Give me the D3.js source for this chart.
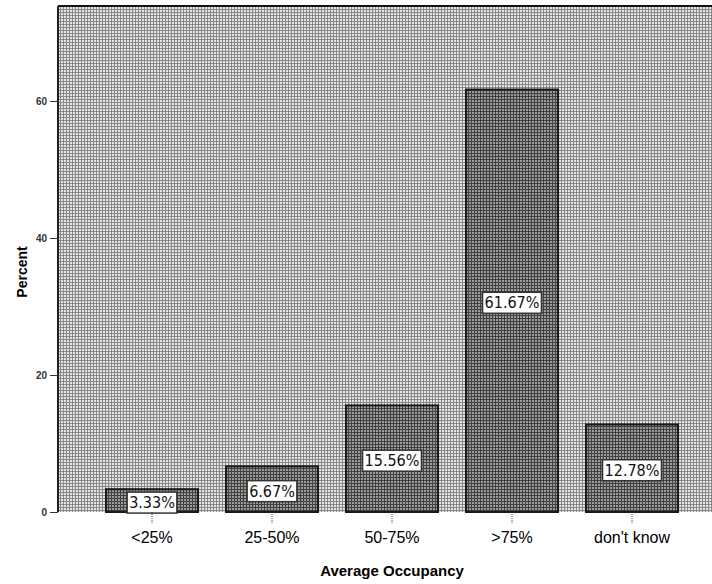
<!DOCTYPE html>
<html>
<head>
<meta charset="utf-8">
<script src="https://cdn.jsdelivr.net/npm/d3@7"></script>
<style>
  html, body { margin: 0; padding: 0; background: #fff; }
  svg { display: block; }
</style>
</head>
<body>
<svg id="chart" width="712" height="584"></svg>
<script>
// Average occupancy categories and their share of responses (percent)
const categories = ["<25%", "25-50%", "50-75%", ">75%", "don't know"];
const percents = [3.33, 6.67, 15.56, 61.67, 12.78];
const yTicks = [0, 20, 40, 60];

const svg = d3.select("#chart");
const plot = { left: 58, right: 712, top: 6, bottom: 512 };

const x = d3.scaleBand()
  .domain(categories)
  .range([92, 692])
  .paddingInner(0.233)
  .paddingOuter(0.1165);

const y = d3.scaleLinear()
  .domain([0, 60])
  .range([plot.bottom, 101]);

// dithered greys for the plot background and the bars
const defs = svg.append("defs");
function dither(id, dark, light) {
  const p = defs.append("pattern")
    .attr("id", id).attr("width", 3).attr("height", 3)
    .attr("patternUnits", "userSpaceOnUse");
  p.append("rect").attr("width", 3).attr("height", 3).attr("fill", light);
  p.append("rect").attr("width", 3).attr("height", 1).attr("fill", dark);
  p.append("rect").attr("width", 1).attr("height", 3).attr("fill", dark);
}
dither("bgDither", "#888", "#e4e4e4");
dither("barDither", "#404040", "#9a9a9a");

svg.append("rect")
  .attr("x", plot.left).attr("y", plot.top)
  .attr("width", plot.right - plot.left).attr("height", plot.bottom - plot.top)
  .attr("fill", "url(#bgDither)");

// top frame line
svg.append("line")
  .attr("x1", plot.left).attr("x2", plot.right)
  .attr("y1", plot.top).attr("y2", plot.top)
  .attr("stroke", "#111").attr("stroke-width", 2);

// bars
svg.selectAll("rect.bar")
  .data(categories)
  .join("rect")
  .attr("class", "bar")
  .attr("x", d => x(d))
  .attr("width", x.bandwidth())
  .attr("y", (d, i) => y(percents[i]))
  .attr("height", (d, i) => y(0) - y(percents[i]))
  .attr("fill", "url(#barDither)")
  .attr("stroke", "#1a1a1a")
  .attr("stroke-width", 2);

// value labels in white boxes at bar mid-height
const fmt = v => v.toFixed(2) + "%";
const labels = svg.selectAll("g.vlabel")
  .data(categories)
  .join("g")
  .attr("class", "vlabel")
  .attr("transform", (d, i) =>
    `translate(${x(d) + x.bandwidth() / 2},${(y(percents[i]) + y(0)) / 2 + 2})`);

labels.each(function (d, i) {
  const g = d3.select(this);
  const t = g.append("text")
    .attr("text-anchor", "middle")
    .attr("dominant-baseline", "central")
    .attr("font-family", "'DejaVu Sans Condensed', 'DejaVu Sans', sans-serif")
    .attr("font-size", 16)
    .attr("fill", "#111")
    .text(fmt(percents[i]));
  const bb = t.node().getBBox();
  g.insert("rect", "text")
    .attr("x", bb.x - 2).attr("y", bb.y - 1)
    .attr("width", bb.width + 4).attr("height", bb.height + 2)
    .attr("fill", "#fff")
    .attr("stroke", "#333").attr("stroke-width", 1.5);
});

// y axis
const yAxis = svg.append("g")
  .attr("transform", `translate(${plot.left},0)`)
  .call(d3.axisLeft(y).tickValues(yTicks).tickSize(8).tickPadding(3));
yAxis.select(".domain")
  .attr("d", `M0,${plot.top}V${plot.bottom}`)
  .attr("stroke", "#222").attr("stroke-width", 2);
yAxis.selectAll(".tick text")
  .attr("font-family", "'Liberation Sans', Arial, sans-serif")
  .attr("font-size", 10).attr("font-weight", "bold").attr("fill", "#333");
yAxis.selectAll(".tick line").attr("stroke", "#333");

// x axis
const xAxis = svg.append("g")
  .attr("transform", `translate(0,${plot.bottom})`)
  .call(d3.axisBottom(x).tickSize(11).tickPadding(9));
xAxis.select(".domain").remove();
xAxis.selectAll(".tick line").attr("stroke", "#444").attr("stroke-dasharray", "1,1");
xAxis.selectAll(".tick text")
  .attr("font-family", "'Liberation Sans', Arial, sans-serif")
  .attr("font-size", 16).attr("fill", "#000");

// axis titles
svg.append("text")
  .attr("x", 392).attr("y", 576)
  .attr("text-anchor", "middle")
  .attr("font-family", "'Liberation Sans', Arial, sans-serif")
  .attr("font-size", 15).attr("font-weight", "bold")
  .text("Average Occupancy");

svg.append("text")
  .attr("transform", "translate(27,272) rotate(-90)")
  .attr("text-anchor", "middle")
  .attr("font-family", "'Liberation Sans', Arial, sans-serif")
  .attr("font-size", 14).attr("font-weight", "bold")
  .text("Percent");
</script>
</body>
</html>
